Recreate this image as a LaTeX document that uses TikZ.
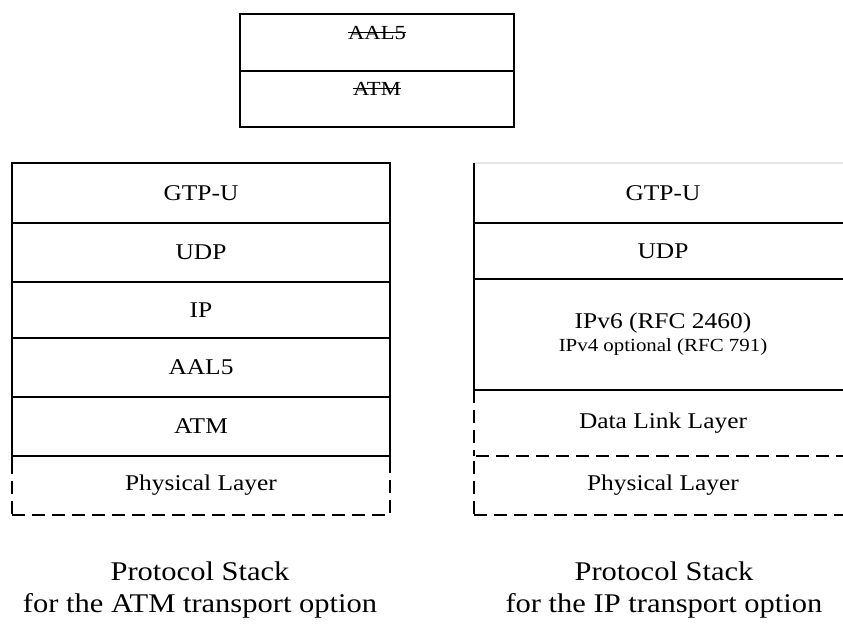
\documentclass[tikz,border=0pt]{standalone}
\usepackage{fontspec}
\setmainfont[FakeStretch=1.13]{Liberation Serif}
\usetikzlibrary{positioning}

% struck-through text
\newcommand{\struck}[1]{\sbox0{#1}\rlap{\raisebox{0.32em}{\rule{\wd0}{0.7pt}}}\usebox0}

\begin{document}
\begin{tikzpicture}[
  x=1pt, y=-1pt,
  font=\fontsize{22.5}{26}\selectfont,
  layer/.style={draw, line width=1.5pt, minimum width=378pt, outer sep=0pt, inner sep=0pt, align=center},
  optlayer/.style={layer, dash pattern=on 13pt off 7pt},
  oldlayer/.style={layer, minimum width=274pt, font=\fontsize{20}{24}\selectfont, text height=14pt, text depth=21pt},
  caption/.style={align=center, font=\fontsize{27}{32}\selectfont},
  edge/.style={line width=1.5pt}
]
\clip (0,0) rectangle (843,624);

% removed layers
\node[oldlayer, minimum height=57pt] (oldaal) at (377,42.5) {\struck{AAL5}};
\node[oldlayer, minimum height=56pt, below=0pt of oldaal] (oldatm) {\struck{ATM}};

% ATM transport option
\node[layer, minimum height=60pt] (atmgtp) at (201,193) {GTP-U};
\node[layer, minimum height=59pt, below=0pt of atmgtp] (atmudp) {UDP};
\node[layer, minimum height=56pt, below=0pt of atmudp] (atmip) {IP};
\node[layer, minimum height=59pt, below=0pt of atmip] (atmaal) {AAL5};
\node[layer, minimum height=59pt, below=0pt of atmaal] (atmatm) {ATM};
\node[optlayer, minimum height=59pt, below=0pt of atmatm] (atmphy) {Physical Layer};
\draw[edge] (atmphy.north west) -- ++(0,13) (atmphy.north east) -- ++(0,13);

% IP transport option
\node[layer, draw=none, minimum height=60pt] (ipgtp) at (663,193) {GTP-U};
\draw[edge, gray!20] (ipgtp.north west) -- (ipgtp.north east);
\draw[edge] (ipgtp.north west) -- (ipgtp.south west);
\node[layer, minimum height=56pt, below=0pt of ipgtp] (ipudp) {UDP};
\node[layer, minimum height=111pt, below=0pt of ipudp] (ipv6)
  {IPv6 (RFC 2460)\\[-3pt]{\fontsize{18.5}{22}\selectfont IPv4 optional (RFC 791)}};
\node[layer, draw=none, minimum height=66pt, below=0pt of ipv6] (iplink) {Data Link Layer};
\draw[edge, dash pattern=on 13pt off 7pt] (iplink.north west) -- (iplink.south west);
\node[optlayer, minimum height=59pt, below=0pt of iplink] (ipphy) {Physical Layer};

\node[caption] (atmcap) at (200,590) {Protocol Stack\\for the ATM transport option};
\node[caption] (ipcap) at (664,590) {Protocol Stack\\for the IP transport option};
\end{tikzpicture}
\end{document}
